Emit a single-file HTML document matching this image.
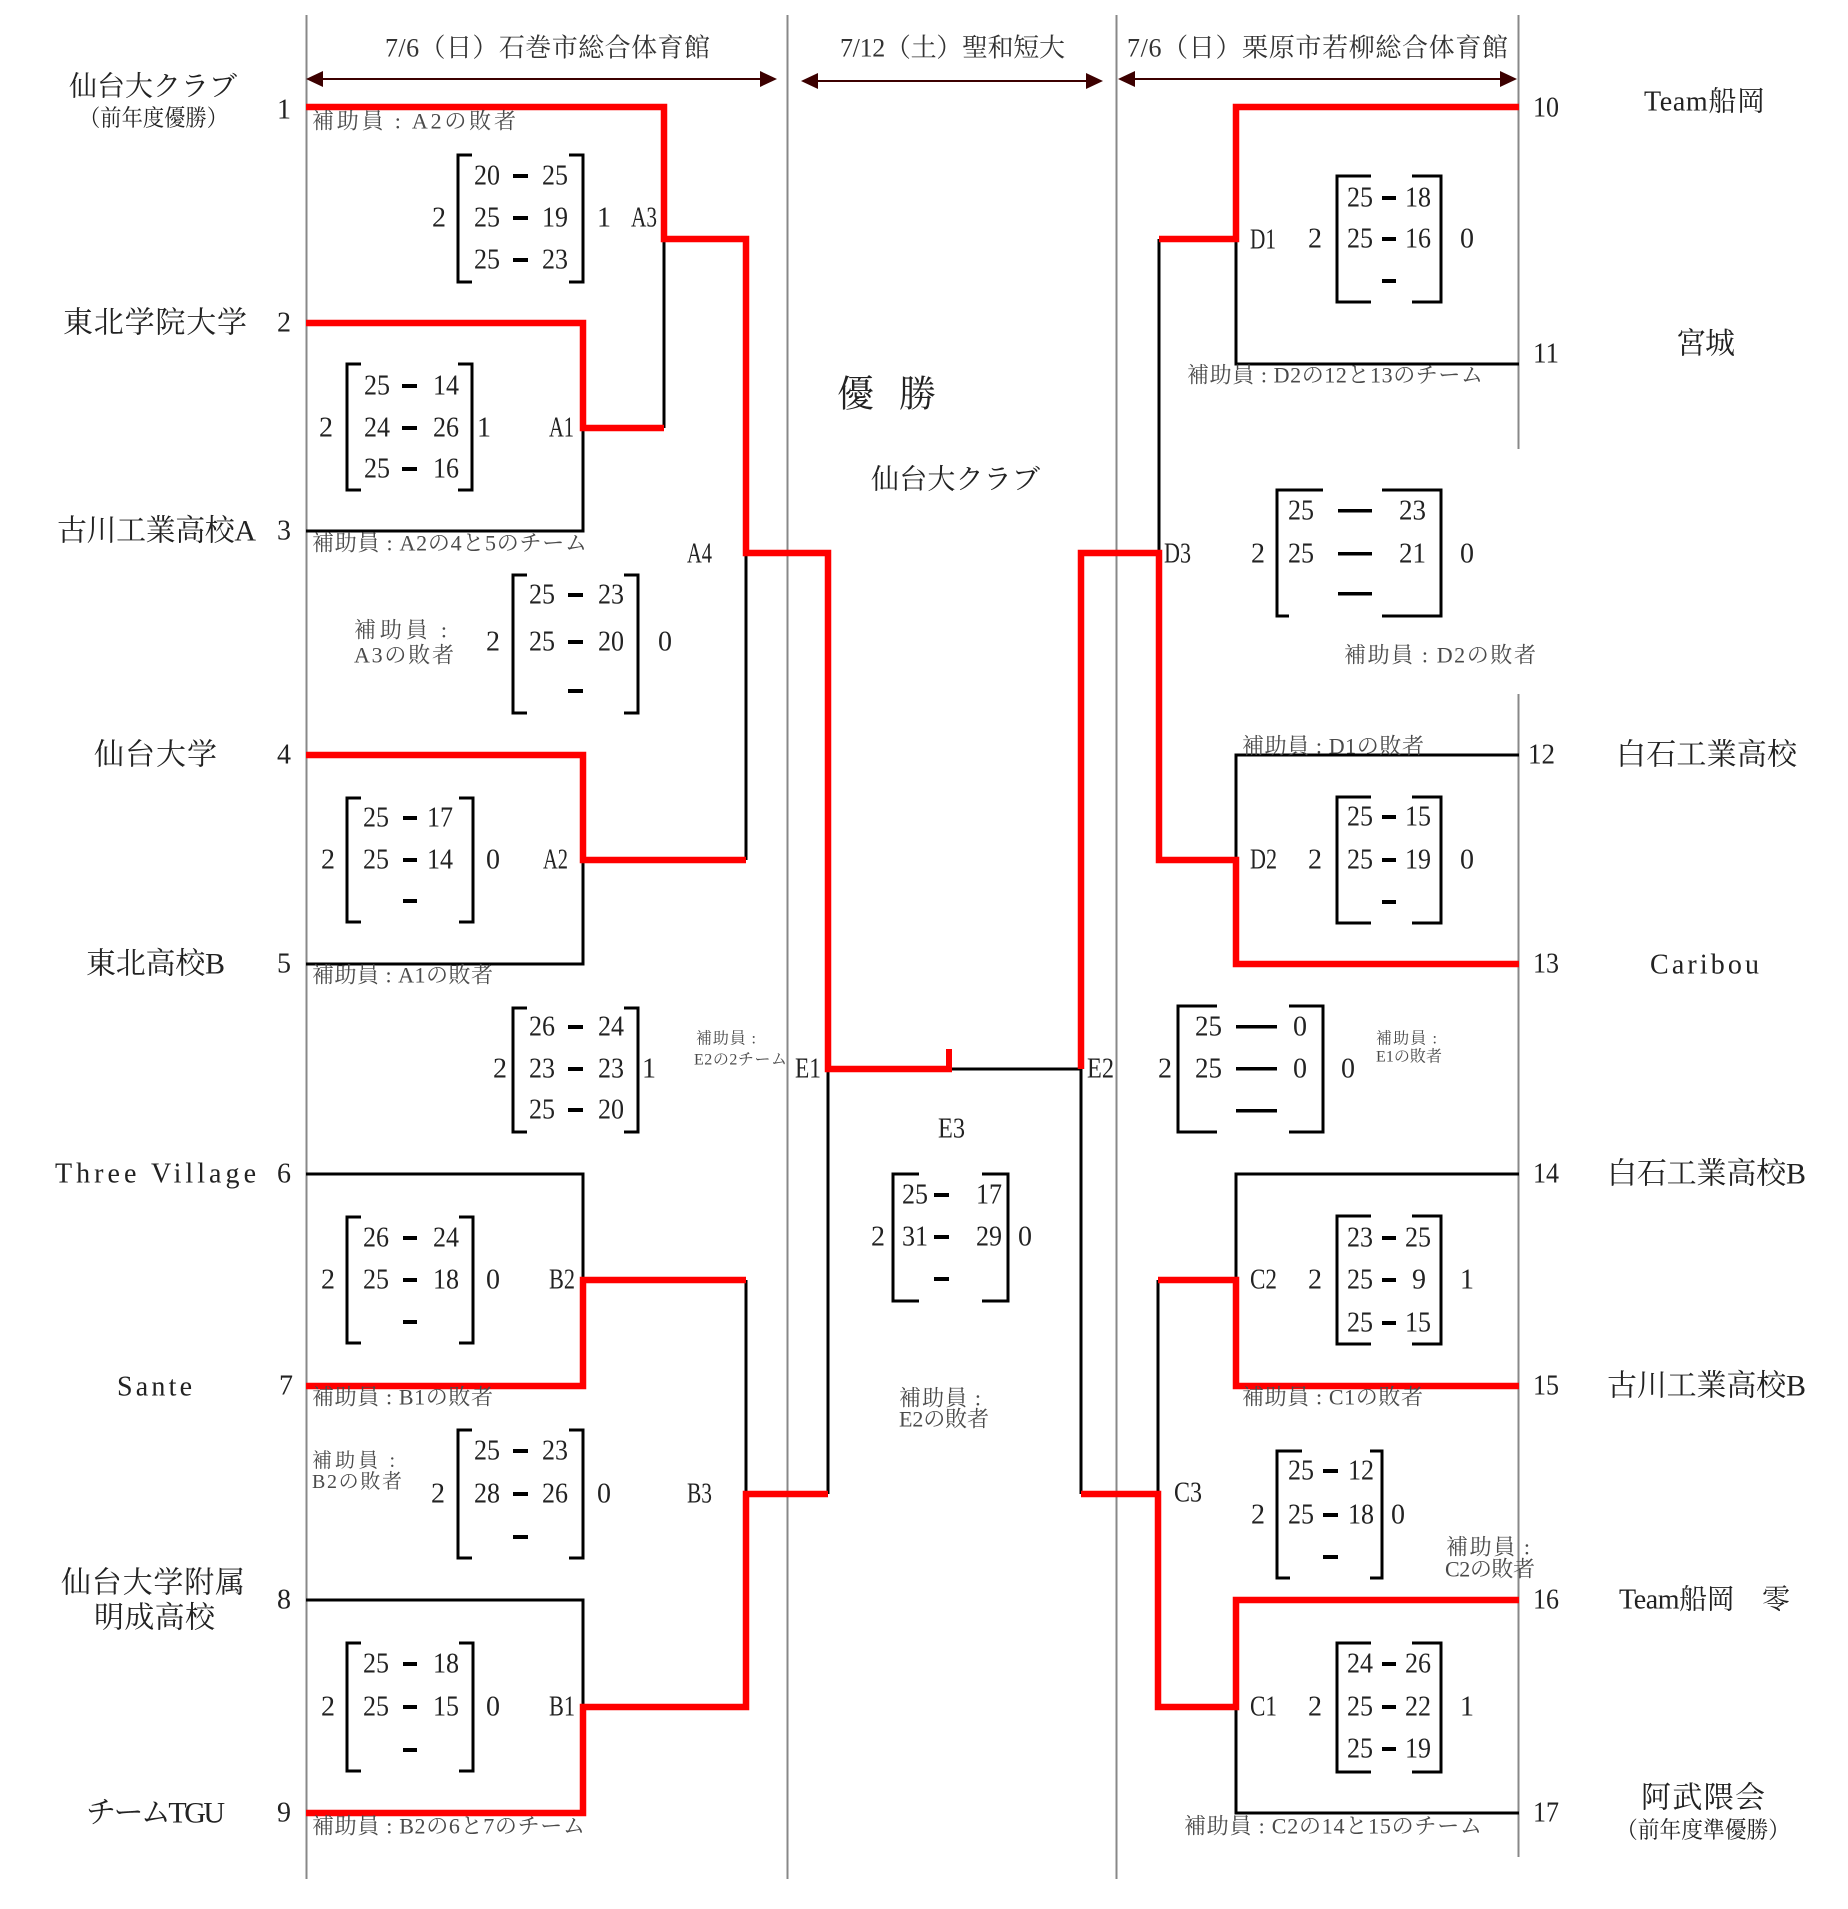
<!DOCTYPE html>
<html><head><meta charset="utf-8"><style>
html,body{margin:0;padding:0;background:#fff;}
svg{display:block;}
text{font-family:"Liberation Serif","Noto Serif CJK SC","Noto Serif CJK JP",serif;fill:#222;dominant-baseline:central;}
.n{font-size:28px;}
.nm{font-size:28px;text-anchor:middle;}
.tm{font-size:30px;}
.s{font-size:22px;fill:#4a4a4a;}
.xs{font-size:16px;fill:#4a4a4a;}
.h{font-size:26px;fill:#333;}
</style></head><body>
<svg width="1848" height="1909" viewBox="0 0 1848 1909" xmlns="http://www.w3.org/2000/svg">
<rect width="1848" height="1909" fill="#fff"/>
<!-- gray vertical lines -->
<g stroke="#888" stroke-width="2">
<line x1="306.5" y1="15" x2="306.5" y2="1879"/>
<line x1="787.5" y1="15" x2="787.5" y2="1879"/>
<line x1="1116.5" y1="15" x2="1116.5" y2="1879"/>
<line x1="1518.5" y1="15" x2="1518.5" y2="449"/>
<line x1="1518.5" y1="694" x2="1518.5" y2="1857"/>
</g>
<!-- arrows -->
<g stroke="#3c0000" stroke-width="2">
<line x1="320" y1="79" x2="763" y2="79"/>
<line x1="815" y1="81" x2="1089" y2="81"/>
<line x1="1132" y1="79" x2="1503" y2="79"/>
</g>
<g fill="#3c0000">
<polygon points="306,79 323,71 323,87"/>
<polygon points="777,79 760,71 760,87"/>
<polygon points="801,81 818,73 818,89"/>
<polygon points="1103,81 1086,73 1086,89"/>
<polygon points="1118,79 1135,71 1135,87"/>
<polygon points="1517,79 1500,71 1500,87"/>
</g>
<!-- header text -->
<text class="h" x="385" y="48" textLength="325" lengthAdjust="spacing">7/6（日）石巻市総合体育館</text>
<text class="h" x="840" y="48" textLength="225" lengthAdjust="spacing">7/12（土）聖和短大</text>
<text class="h" x="1127" y="48" textLength="381" lengthAdjust="spacing">7/6（日）栗原市若柳総合体育館</text>

<!-- black bracket lines -->
<g stroke="#000" stroke-width="3" fill="none">
<path d="M306 531H583V428"/>
<path d="M664 239V428"/>
<path d="M306 964H583V860"/>
<path d="M746 553V860"/>
<path d="M306 1174H583V1280"/>
<path d="M306 1600H583V1707"/>
<path d="M746 1280V1494"/>
<path d="M828 1069V1494"/>
<path d="M950 1069H1081"/>
<path d="M1519 364H1236V239"/>
<path d="M1159 239V553"/>
<path d="M1519 755H1236V860"/>
<path d="M1519 1174H1236V1280"/>
<path d="M1158 1280V1494"/>
<path d="M1519 1813H1236V1707"/>
<path d="M1081 1069V1494"/>
</g>
<!-- red winner lines -->
<g stroke="#ff0000" stroke-width="6.5" fill="none" stroke-linejoin="miter">
<path d="M306 107H664V239H746V553H828V1069H952"/>
<path d="M306 323H583V428H664"/>
<path d="M306 755H583V860H746"/>
<path d="M306 1386H583V1280H746"/>
<path d="M306 1813H583V1707H746V1494H828"/>
<path d="M1519 107H1236V239H1159"/>
<path d="M1519 964H1236V860H1159V553H1081V1069"/>
<path d="M1519 1386H1236V1280H1158"/>
<path d="M1519 1600H1236V1707H1158V1494H1081"/>
</g>
<rect x="946" y="1049" width="6" height="20" fill="#ff0000"/>

<!-- score brackets -->
<g stroke="#000" stroke-width="3" fill="none">
<path d="M472 155H458V282H472M569 155H583V282H569"/>
<path d="M361 364H347V490H361M458 364H472V490H458"/>
<path d="M527 575H513V713H527M624 575H638V713H624"/>
<path d="M361 798H347V922H361M459 798H473V922H459"/>
<path d="M527 1008H513V1132H527M624 1008H638V1132H624"/>
<path d="M361 1217H347V1343H361M459 1217H473V1343H459"/>
<path d="M472 1430H458V1558H472M569 1430H583V1558H569"/>
<path d="M361 1643H347V1771H361M459 1643H473V1771H459"/>
<path d="M1371 176H1337V302H1371M1412 176H1441V302H1412"/>
<path d="M1371 797H1337V923H1371M1412 797H1441V923H1412"/>
<path d="M1371 1216H1337V1344H1371M1412 1216H1441V1344H1412"/>
<path d="M1371 1643H1337V1772H1371M1412 1643H1441V1772H1412"/>
<path d="M1323 490H1277V616H1289M1382 490H1441V616H1382"/>
<path d="M1217 1006H1178V1132H1217M1289 1006H1323V1132H1289"/>
<path d="M1302 1451H1277V1578H1290M1370 1451H1382V1578H1370"/>
<path d="M919 1174H893V1301H919M982 1174H1008V1301H982"/>
</g>
<!-- dashes -->
<g fill="#000">
<rect x="513" y="174" width="15" height="4"/><rect x="513" y="216" width="15" height="4"/><rect x="513" y="258" width="15" height="4"/>
<rect x="402" y="384" width="15" height="4"/><rect x="402" y="426" width="15" height="4"/><rect x="402" y="467" width="15" height="4"/>
<rect x="568" y="593" width="15" height="4"/><rect x="568" y="640" width="15" height="4"/><rect x="568" y="689" width="15" height="4"/>
<rect x="403" y="816" width="14" height="4"/><rect x="403" y="858" width="14" height="4"/><rect x="403" y="899" width="14" height="4"/>
<rect x="568" y="1025" width="15" height="4"/><rect x="568" y="1067" width="15" height="4"/><rect x="568" y="1108" width="15" height="4"/>
<rect x="403" y="1236" width="14" height="4"/><rect x="403" y="1278" width="14" height="4"/><rect x="403" y="1320" width="14" height="4"/>
<rect x="513" y="1449" width="15" height="4"/><rect x="513" y="1492" width="15" height="4"/><rect x="513" y="1535" width="15" height="4"/>
<rect x="403" y="1662" width="14" height="4"/><rect x="403" y="1705" width="14" height="4"/><rect x="403" y="1748" width="14" height="4"/>
<rect x="1382" y="196" width="14" height="4"/><rect x="1382" y="237" width="14" height="4"/><rect x="1382" y="279" width="14" height="4"/>
<rect x="1382" y="815" width="14" height="4"/><rect x="1382" y="858" width="14" height="4"/><rect x="1382" y="900" width="14" height="4"/>
<rect x="1382" y="1236" width="14" height="4"/><rect x="1382" y="1278" width="14" height="4"/><rect x="1382" y="1321" width="14" height="4"/>
<rect x="1382" y="1662" width="14" height="4"/><rect x="1382" y="1705" width="14" height="4"/><rect x="1382" y="1747" width="14" height="4"/>
<rect x="1323" y="1469" width="15" height="4"/><rect x="1323" y="1513" width="15" height="4"/><rect x="1323" y="1555" width="15" height="4"/>
<rect x="934" y="1193" width="15" height="4"/><rect x="934" y="1235" width="15" height="4"/><rect x="934" y="1277" width="15" height="4"/>
<rect x="1338" y="509" width="34" height="3.5"/><rect x="1338" y="552" width="34" height="3.5"/><rect x="1338" y="592" width="34" height="3.5"/>
<rect x="1236" y="1025" width="41" height="3.5"/><rect x="1236" y="1067" width="41" height="3.5"/><rect x="1236" y="1109" width="41" height="3.5"/>
</g>

<!-- score numbers -->
<g class="scores">
<text class="n" x="474" y="176" textLength="26" lengthAdjust="spacingAndGlyphs">20</text><text class="n" x="542" y="176" textLength="26" lengthAdjust="spacingAndGlyphs">25</text>
<text class="n" x="474" y="218" textLength="26" lengthAdjust="spacingAndGlyphs">25</text><text class="n" x="542" y="218" textLength="26" lengthAdjust="spacingAndGlyphs">19</text>
<text class="n" x="474" y="260" textLength="26" lengthAdjust="spacingAndGlyphs">25</text><text class="n" x="542" y="260" textLength="26" lengthAdjust="spacingAndGlyphs">23</text>

<text class="n" x="364" y="386" textLength="26" lengthAdjust="spacingAndGlyphs">25</text><text class="n" x="433" y="386" textLength="26" lengthAdjust="spacingAndGlyphs">14</text>
<text class="n" x="364" y="428" textLength="26" lengthAdjust="spacingAndGlyphs">24</text><text class="n" x="433" y="428" textLength="26" lengthAdjust="spacingAndGlyphs">26</text>
<text class="n" x="364" y="469" textLength="26" lengthAdjust="spacingAndGlyphs">25</text><text class="n" x="433" y="469" textLength="26" lengthAdjust="spacingAndGlyphs">16</text>

<text class="n" x="529" y="595" textLength="26" lengthAdjust="spacingAndGlyphs">25</text><text class="n" x="598" y="595" textLength="26" lengthAdjust="spacingAndGlyphs">23</text>
<text class="n" x="529" y="642" textLength="26" lengthAdjust="spacingAndGlyphs">25</text><text class="n" x="598" y="642" textLength="26" lengthAdjust="spacingAndGlyphs">20</text>

<text class="n" x="363" y="818" textLength="26" lengthAdjust="spacingAndGlyphs">25</text><text class="n" x="427" y="818" textLength="26" lengthAdjust="spacingAndGlyphs">17</text>
<text class="n" x="363" y="860" textLength="26" lengthAdjust="spacingAndGlyphs">25</text><text class="n" x="427" y="860" textLength="26" lengthAdjust="spacingAndGlyphs">14</text>

<text class="n" x="529" y="1027" textLength="26" lengthAdjust="spacingAndGlyphs">26</text><text class="n" x="598" y="1027" textLength="26" lengthAdjust="spacingAndGlyphs">24</text>
<text class="n" x="529" y="1069" textLength="26" lengthAdjust="spacingAndGlyphs">23</text><text class="n" x="598" y="1069" textLength="26" lengthAdjust="spacingAndGlyphs">23</text>
<text class="n" x="529" y="1110" textLength="26" lengthAdjust="spacingAndGlyphs">25</text><text class="n" x="598" y="1110" textLength="26" lengthAdjust="spacingAndGlyphs">20</text>

<text class="n" x="363" y="1238" textLength="26" lengthAdjust="spacingAndGlyphs">26</text><text class="n" x="433" y="1238" textLength="26" lengthAdjust="spacingAndGlyphs">24</text>
<text class="n" x="363" y="1280" textLength="26" lengthAdjust="spacingAndGlyphs">25</text><text class="n" x="433" y="1280" textLength="26" lengthAdjust="spacingAndGlyphs">18</text>

<text class="n" x="474" y="1451" textLength="26" lengthAdjust="spacingAndGlyphs">25</text><text class="n" x="542" y="1451" textLength="26" lengthAdjust="spacingAndGlyphs">23</text>
<text class="n" x="474" y="1494" textLength="26" lengthAdjust="spacingAndGlyphs">28</text><text class="n" x="542" y="1494" textLength="26" lengthAdjust="spacingAndGlyphs">26</text>

<text class="n" x="363" y="1664" textLength="26" lengthAdjust="spacingAndGlyphs">25</text><text class="n" x="433" y="1664" textLength="26" lengthAdjust="spacingAndGlyphs">18</text>
<text class="n" x="363" y="1707" textLength="26" lengthAdjust="spacingAndGlyphs">25</text><text class="n" x="433" y="1707" textLength="26" lengthAdjust="spacingAndGlyphs">15</text>

<text class="n" x="1347" y="198" textLength="26" lengthAdjust="spacingAndGlyphs">25</text><text class="n" x="1405" y="198" textLength="26" lengthAdjust="spacingAndGlyphs">18</text>
<text class="n" x="1347" y="239" textLength="26" lengthAdjust="spacingAndGlyphs">25</text><text class="n" x="1405" y="239" textLength="26" lengthAdjust="spacingAndGlyphs">16</text>

<text class="n" x="1347" y="817" textLength="26" lengthAdjust="spacingAndGlyphs">25</text><text class="n" x="1405" y="817" textLength="26" lengthAdjust="spacingAndGlyphs">15</text>
<text class="n" x="1347" y="860" textLength="26" lengthAdjust="spacingAndGlyphs">25</text><text class="n" x="1405" y="860" textLength="26" lengthAdjust="spacingAndGlyphs">19</text>

<text class="n" x="1347" y="1238" textLength="26" lengthAdjust="spacingAndGlyphs">23</text><text class="n" x="1405" y="1238" textLength="26" lengthAdjust="spacingAndGlyphs">25</text>
<text class="n" x="1347" y="1280" textLength="26" lengthAdjust="spacingAndGlyphs">25</text><text class="nm" x="1419" y="1280">9</text>
<text class="n" x="1347" y="1323" textLength="26" lengthAdjust="spacingAndGlyphs">25</text><text class="n" x="1405" y="1323" textLength="26" lengthAdjust="spacingAndGlyphs">15</text>

<text class="n" x="1347" y="1664" textLength="26" lengthAdjust="spacingAndGlyphs">24</text><text class="n" x="1405" y="1664" textLength="26" lengthAdjust="spacingAndGlyphs">26</text>
<text class="n" x="1347" y="1707" textLength="26" lengthAdjust="spacingAndGlyphs">25</text><text class="n" x="1405" y="1707" textLength="26" lengthAdjust="spacingAndGlyphs">22</text>
<text class="n" x="1347" y="1749" textLength="26" lengthAdjust="spacingAndGlyphs">25</text><text class="n" x="1405" y="1749" textLength="26" lengthAdjust="spacingAndGlyphs">19</text>

<text class="n" x="1288" y="1471" textLength="26" lengthAdjust="spacingAndGlyphs">25</text><text class="n" x="1348" y="1471" textLength="26" lengthAdjust="spacingAndGlyphs">12</text>
<text class="n" x="1288" y="1515" textLength="26" lengthAdjust="spacingAndGlyphs">25</text><text class="n" x="1348" y="1515" textLength="26" lengthAdjust="spacingAndGlyphs">18</text>

<text class="n" x="902" y="1195" textLength="26" lengthAdjust="spacingAndGlyphs">25</text><text class="n" x="976" y="1195" textLength="26" lengthAdjust="spacingAndGlyphs">17</text>
<text class="n" x="902" y="1237" textLength="26" lengthAdjust="spacingAndGlyphs">31</text><text class="n" x="976" y="1237" textLength="26" lengthAdjust="spacingAndGlyphs">29</text>

<text class="n" x="1288" y="511" textLength="26" lengthAdjust="spacingAndGlyphs">25</text><text class="n" x="1399" y="511" textLength="27" lengthAdjust="spacingAndGlyphs">23</text>
<text class="n" x="1288" y="554" textLength="26" lengthAdjust="spacingAndGlyphs">25</text><text class="n" x="1399" y="554" textLength="27" lengthAdjust="spacingAndGlyphs">21</text>

<text class="n" x="1195" y="1027" textLength="27" lengthAdjust="spacingAndGlyphs">25</text><text class="nm" x="1300" y="1027">0</text>
<text class="n" x="1195" y="1069" textLength="27" lengthAdjust="spacingAndGlyphs">25</text><text class="nm" x="1300" y="1069">0</text>
</g>

<!-- outer set counts -->
<text class="nm" x="439" y="218">2</text><text class="nm" x="604" y="218">1</text>
<text class="nm" x="326" y="428">2</text><text class="nm" x="484" y="428">1</text>
<text class="nm" x="493" y="642">2</text><text class="nm" x="665" y="642">0</text>
<text class="nm" x="328" y="860">2</text><text class="nm" x="493" y="860">0</text>
<text class="nm" x="500" y="1069">2</text><text class="nm" x="649" y="1069">1</text>
<text class="nm" x="328" y="1280">2</text><text class="nm" x="493" y="1280">0</text>
<text class="nm" x="438" y="1494">2</text><text class="nm" x="604" y="1494">0</text>
<text class="nm" x="328" y="1707">2</text><text class="nm" x="493" y="1707">0</text>
<text class="nm" x="1315" y="239">2</text><text class="nm" x="1467" y="239">0</text>
<text class="nm" x="1315" y="860">2</text><text class="nm" x="1467" y="860">0</text>
<text class="nm" x="1315" y="1280">2</text><text class="nm" x="1467" y="1280">1</text>
<text class="nm" x="1315" y="1707">2</text><text class="nm" x="1467" y="1707">1</text>
<text class="nm" x="1258" y="1515">2</text><text class="nm" x="1398" y="1515">0</text>
<text class="nm" x="1258" y="554">2</text><text class="nm" x="1467" y="554">0</text>
<text class="nm" x="1165" y="1069">2</text><text class="nm" x="1348" y="1069">0</text>
<text class="nm" x="878" y="1237">2</text><text class="nm" x="1025" y="1237">0</text>

<!-- match labels -->
<text class="n" x="631" y="218" textLength="26" lengthAdjust="spacingAndGlyphs">A3</text>
<text class="n" x="549" y="428" textLength="25" lengthAdjust="spacingAndGlyphs">A1</text>
<text class="n" x="687" y="554" textLength="25" lengthAdjust="spacingAndGlyphs">A4</text>
<text class="n" x="543" y="860" textLength="25" lengthAdjust="spacingAndGlyphs">A2</text>
<text class="n" x="795" y="1069" textLength="26" lengthAdjust="spacingAndGlyphs">E1</text>
<text class="n" x="549" y="1280" textLength="26" lengthAdjust="spacingAndGlyphs">B2</text>
<text class="n" x="687" y="1494" textLength="25" lengthAdjust="spacingAndGlyphs">B3</text>
<text class="n" x="549" y="1707" textLength="26" lengthAdjust="spacingAndGlyphs">B1</text>
<text class="n" x="1250" y="240" textLength="26" lengthAdjust="spacingAndGlyphs">D1</text>
<text class="n" x="1250" y="860" textLength="27" lengthAdjust="spacingAndGlyphs">D2</text>
<text class="n" x="1164" y="554" textLength="27" lengthAdjust="spacingAndGlyphs">D3</text>
<text class="n" x="1087" y="1069" textLength="27" lengthAdjust="spacingAndGlyphs">E2</text>
<text class="n" x="1250" y="1280" textLength="27" lengthAdjust="spacingAndGlyphs">C2</text>
<text class="n" x="1174" y="1493" textLength="28" lengthAdjust="spacingAndGlyphs">C3</text>
<text class="n" x="1250" y="1707" textLength="27" lengthAdjust="spacingAndGlyphs">C1</text>
<text class="n" x="938" y="1129" textLength="27" lengthAdjust="spacingAndGlyphs">E3</text>

<!-- left team names -->
<text style="font-size:28px" x="69" y="87" textLength="168" lengthAdjust="spacing">仙台大クラブ</text>
<text style="font-size:23px" x="79" y="118" textLength="149" lengthAdjust="spacingAndGlyphs">（前年度優勝）</text>
<text class="tm" x="63" y="323" textLength="184" lengthAdjust="spacing">東北学院大学</text>
<text class="tm" x="57" y="531" textLength="199" lengthAdjust="spacing">古川工業高校A</text>
<text class="tm" x="94" y="755" textLength="123" lengthAdjust="spacing">仙台大学</text>
<text class="tm" x="86" y="964" textLength="139" lengthAdjust="spacing">東北高校B</text>
<text style="font-size:28px" x="55" y="1174" textLength="201" lengthAdjust="spacing">Three Village</text>
<text style="font-size:28px" x="117" y="1387" textLength="75" lengthAdjust="spacing">Sante</text>
<text class="tm" x="61" y="1583" textLength="184" lengthAdjust="spacing">仙台大学附属</text>
<text class="tm" x="94" y="1618" textLength="121" lengthAdjust="spacing">明成高校</text>
<text class="tm" x="86" y="1813" textLength="139" lengthAdjust="spacing">チームTGU</text>

<!-- left team numbers -->
<text class="nm" x="284" y="110">1</text>
<text class="nm" x="284" y="323">2</text>
<text class="nm" x="284" y="531">3</text>
<text class="nm" x="284" y="755">4</text>
<text class="nm" x="284" y="964">5</text>
<text class="nm" x="284" y="1174">6</text>
<text class="nm" x="286" y="1386">7</text>
<text class="nm" x="284" y="1600">8</text>
<text class="nm" x="284" y="1813">9</text>

<!-- right team numbers -->
<text class="n" x="1533" y="108" textLength="26" lengthAdjust="spacingAndGlyphs">10</text>
<text class="n" x="1533" y="354" textLength="26" lengthAdjust="spacingAndGlyphs">11</text>
<text class="n" x="1528" y="755" textLength="27" lengthAdjust="spacingAndGlyphs">12</text>
<text class="n" x="1533" y="964" textLength="26" lengthAdjust="spacingAndGlyphs">13</text>
<text class="n" x="1533" y="1174" textLength="26" lengthAdjust="spacingAndGlyphs">14</text>
<text class="n" x="1533" y="1386" textLength="26" lengthAdjust="spacingAndGlyphs">15</text>
<text class="n" x="1533" y="1600" textLength="26" lengthAdjust="spacingAndGlyphs">16</text>
<text class="n" x="1533" y="1813" textLength="26" lengthAdjust="spacingAndGlyphs">17</text>

<!-- right team names -->
<text style="font-size:28px" x="1644" y="102" textLength="121" lengthAdjust="spacing">Team船岡</text>
<text class="tm" x="1676" y="344" textLength="59" lengthAdjust="spacing">宮城</text>
<text class="tm" x="1616" y="755" textLength="181" lengthAdjust="spacing">白石工業高校</text>
<text style="font-size:28px" x="1650" y="965" textLength="109" lengthAdjust="spacing">Caribou</text>
<text class="tm" x="1607" y="1174" textLength="199" lengthAdjust="spacing">白石工業高校B</text>
<text class="tm" x="1607" y="1386" textLength="199" lengthAdjust="spacing">古川工業高校B</text>
<text style="font-size:28px" x="1619" y="1600" textLength="171" lengthAdjust="spacing">Team船岡　零</text>
<text class="tm" x="1641" y="1798" textLength="124" lengthAdjust="spacing">阿武隈会</text>
<text style="font-size:23px" x="1616" y="1830" textLength="174" lengthAdjust="spacingAndGlyphs">（前年度準優勝）</text>

<!-- champion -->
<text style="font-size:37px" x="837" y="395">優</text>
<text style="font-size:37px" x="899" y="395">勝</text>
<text style="font-size:28px" x="871" y="480" textLength="169" lengthAdjust="spacing">仙台大クラブ</text>

<!-- helper labels -->
<text class="s" x="312" y="121" textLength="204" lengthAdjust="spacing">補助員 : A2の敗者</text>
<text class="s" x="312" y="543" textLength="275" lengthAdjust="spacing">補助員 : A2の4と5のチーム</text>
<text class="s" x="354" y="630" textLength="93" lengthAdjust="spacing">補助員 :</text>
<text class="s" x="354" y="655" textLength="100" lengthAdjust="spacing">A3の敗者</text>
<text class="s" x="312" y="975" textLength="181" lengthAdjust="spacing">補助員 : A1の敗者</text>
<text class="s" x="312" y="1397" textLength="181" lengthAdjust="spacing">補助員 : B1の敗者</text>
<text class="s" style="font-size:20px" x="312" y="1461" textLength="83" lengthAdjust="spacing">補助員 :</text>
<text class="s" style="font-size:20px" x="312" y="1482" textLength="90" lengthAdjust="spacing">B2の敗者</text>
<text class="s" x="312" y="1826" textLength="273" lengthAdjust="spacing">補助員 : B2の6と7のチーム</text>
<text class="xs" x="696" y="1039" textLength="60" lengthAdjust="spacing">補助員 :</text>
<text class="xs" x="694" y="1060" textLength="93" lengthAdjust="spacing">E2の2チーム</text>
<text class="s" x="899" y="1398" textLength="82" lengthAdjust="spacing">補助員 :</text>
<text class="s" x="899" y="1419" textLength="90" lengthAdjust="spacing">E2の敗者</text>
<text class="s" x="1187" y="375" textLength="296" lengthAdjust="spacing">補助員 : D2の12と13のチーム</text>
<text class="s" x="1344" y="655" textLength="192" lengthAdjust="spacing">補助員 :  D2の敗者</text>
<text class="s" x="1242" y="746" textLength="182" lengthAdjust="spacing">補助員 : D1の敗者</text>
<text class="xs" x="1376" y="1039" textLength="61" lengthAdjust="spacing">補助員 :</text>
<text class="xs" x="1376" y="1057" textLength="66" lengthAdjust="spacing">E1の敗者</text>
<text class="s" x="1242" y="1397" textLength="181" lengthAdjust="spacing">補助員 : C1の敗者</text>
<text class="s" x="1446" y="1547" textLength="84" lengthAdjust="spacing">補助員 :</text>
<text class="s" x="1445" y="1569" textLength="90" lengthAdjust="spacing">C2の敗者</text>
<text class="s" x="1184" y="1826" textLength="298" lengthAdjust="spacing">補助員 : C2の14と15のチーム</text>
</svg>
</body></html>
